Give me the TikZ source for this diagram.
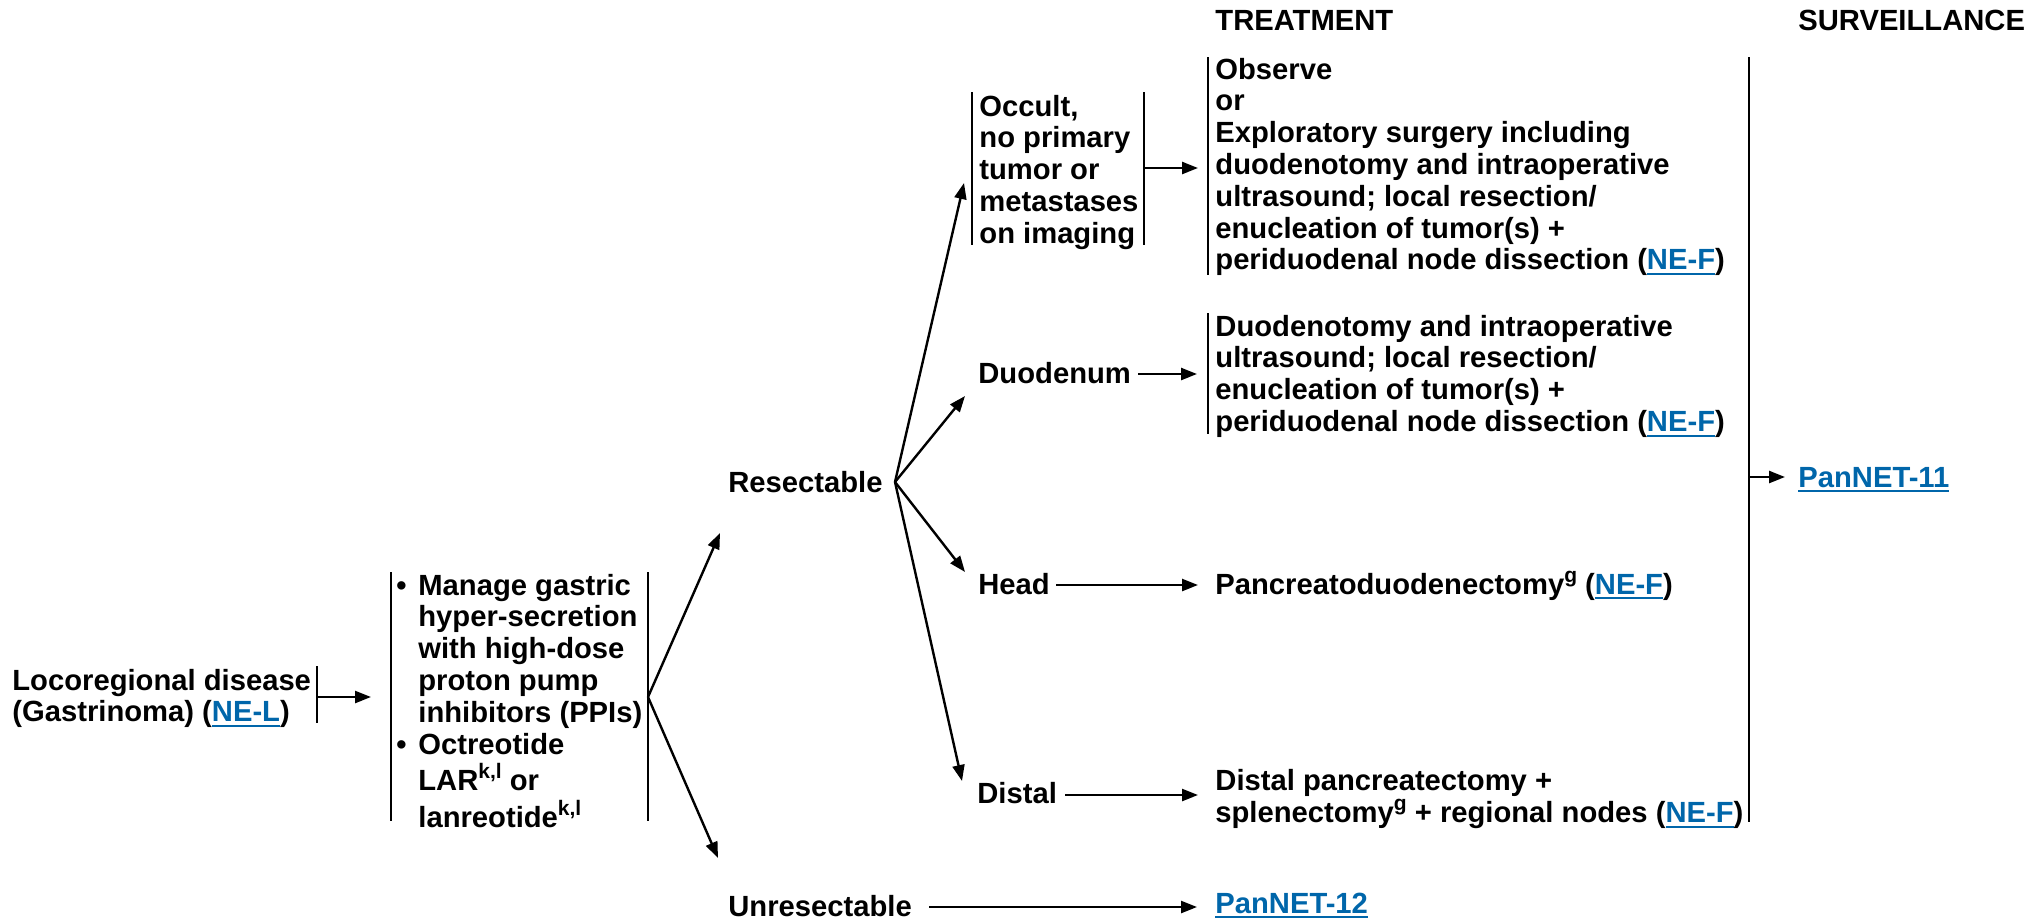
\documentclass[tikz,border=0pt]{standalone}
\usepackage{fontspec}
\setmainfont{Liberation Sans}
\usetikzlibrary{arrows.meta}
\definecolor{linkblue}{RGB}{0,102,170}
\newcommand\lnk[1]{{\color{linkblue}\setbox0=\hbox{#1}\rlap{\rule[-2.6pt]{\wd0}{0.9pt}}\box0}}
\newcommand\ml[1]{\begin{tabular}[t]{@{}l@{}}#1\end{tabular}}
\newcommand\bul{\makebox[11pt][l]{•}}
\newcommand\sups[1]{\raisebox{6pt}{\fontsize{10.5}{10.5}\selectfont #1}}
\begin{document}
\begin{tikzpicture}[x=0.5pt,y=-0.5pt,
  txt/.style={inner sep=0pt,anchor=base west,font=\fontsize{14.6}{15.9}\selectfont\bfseries},
  arr/.style={line width=1.2pt,-{Triangle[length=8pt,width=6pt]}},
  bar/.style={line width=1pt}]
\useasboundingbox (0,0) rectangle (2038,921);
% headings
\node[txt] (treat) at (1215,30) {TREATMENT};
\node[txt] (surv) at (1798,30) {SURVEILLANCE};
% text nodes
\node[txt] (loco) at (12,690) {\ml{Locoregional disease\\(Gastrinoma) (\lnk{NE-L})}};
\node[txt] (manage) at (396,595) {\begin{tabular}[t]{@{}l@{}l@{}}
\bul & Manage gastric\\ & hyper-secretion\\ & with high-dose\\ & proton pump\\ & inhibitors (PPIs)\\
\bul & Octreotide\\ & LAR\sups{k,l} or\\ & lanreotide\sups{k,l}\end{tabular}};
\node[txt] (res) at (728,492) {Resectable};
\node[txt] (unres) at (728,916) {Unresectable};
\node[txt] (occ) at (979,116) {\ml{Occult,\\no primary\\tumor or\\metastases\\on imaging}};
\node[txt] (duo) at (978,383) {Duodenum};
\node[txt] (head) at (978,594) {Head};
\node[txt] (distal) at (977,803) {Distal};
\node[txt] (tr1) at (1215,79) {\ml{Observe\\or\\Exploratory surgery including\\duodenotomy and intraoperative\\ultrasound; local resection/\\enucleation of tumor(s) +\\periduodenal node dissection (\lnk{NE-F})}};
\node[txt] (tr2) at (1215,336) {\ml{Duodenotomy and intraoperative\\ultrasound; local resection/\\enucleation of tumor(s) +\\periduodenal node dissection (\lnk{NE-F})}};
\node[txt] (tr3) at (1215,594) {Pancreatoduodenectomy\sups{g} (\lnk{NE-F})};
\node[txt] (tr4) at (1215,790) {\ml{Distal pancreatectomy +\\splenectomy\sups{g} + regional nodes (\lnk{NE-F})}};
\node[txt] (p12) at (1215,913) {\lnk{PanNET-12}};
\node[txt] (p11) at (1798,487) {\lnk{PanNET-11}};
% bracket bars
\draw[bar] (317,666) -- (317,723);
\draw[bar] (391,572) -- (391,821);
\draw[bar] (648,572) -- (648,821);
\draw[bar] (972,92) -- (972,245);
\draw[bar] (1144,92) -- (1144,245);
\draw[bar] (1208,57) -- (1208,275);
\draw[bar] (1208,313) -- (1208,434);
\draw[bar] (1749,57) -- (1749,822);
% connector coordinates
\coordinate (locoOut) at (317,697);
\coordinate (manIn) at (371,697);
\coordinate (manOut) at (648,697);
\coordinate (resIn) at (720,533);
\coordinate (unresIn) at (718,858);
\coordinate (resOut) at (895,482);
\coordinate (occIn) at (964,183);
\coordinate (duoIn) at (965,396);
\coordinate (headIn) at (965,572);
\coordinate (distIn) at (962,781);
\coordinate (occOut) at (1144,168);
\coordinate (tr1In) at (1198,168);
\coordinate (duoOut) at (1138,374);
\coordinate (tr2In) at (1197,374);
\coordinate (headOut) at (1056,585);
\coordinate (tr3In) at (1198,585);
\coordinate (distOut) at (1065,795);
\coordinate (tr4In) at (1198,795);
\coordinate (unresOut) at (929,907);
\coordinate (p12In) at (1197,907);
\coordinate (survOut) at (1749,477);
\coordinate (p11In) at (1785,477);
% connectors
\draw[arr] (locoOut) -- (manIn);
\draw[arr] (manOut) -- (resIn);
\draw[arr] (manOut) -- (unresIn);
\draw[arr] (resOut) -- (occIn);
\draw[arr] (resOut) -- (duoIn);
\draw[arr] (resOut) -- (headIn);
\draw[arr] (resOut) -- (distIn);
\draw[arr] (occOut) -- (tr1In);
\draw[arr] (duoOut) -- (tr2In);
\draw[arr] (headOut) -- (tr3In);
\draw[arr] (distOut) -- (tr4In);
\draw[arr] (unresOut) -- (p12In);
\draw[arr] (survOut) -- (p11In);
\end{tikzpicture}
\end{document}
